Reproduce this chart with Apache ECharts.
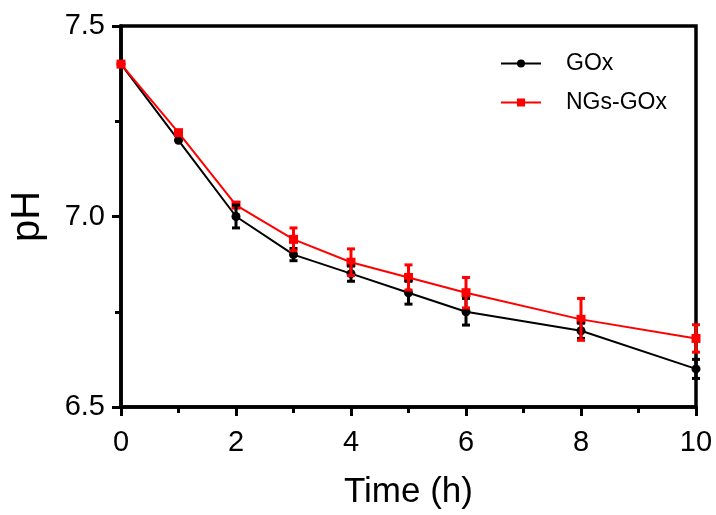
<!DOCTYPE html>
<html><head><meta charset="utf-8">
<script src="https://cdn.jsdelivr.net/npm/echarts@6/dist/echarts.min.js"></script>
<style>html,body{margin:0;padding:0;background:#fff}#c{width:716px;height:515px}</style>
</head><body><div id="c"></div>
<script>
var times = [0, 1, 2, 3, 4, 5, 6, 8, 10];
var goxMean = [7.40, 7.20, 7.00, 6.90, 6.85, 6.80, 6.75, 6.70, 6.60];
var goxErr  = [0.00, 0.00, 0.03, 0.016, 0.02, 0.03, 0.035, 0.02, 0.025];
var ngsMean = [7.40, 7.22, 7.03, 6.94, 6.88, 6.84, 6.80, 6.73, 6.68];
var ngsErr  = [0.00, 0.00, 0.00, 0.03, 0.035, 0.033, 0.04, 0.055, 0.036];

function pts(m){ return times.map(function(t,i){return [t,m[i]];}); }
function errData(m,e){ return times.map(function(t,i){return [t,m[i]-e[i],m[i]+e[i]];}); }
function errSeries(m,e,color){
  return {
    type:'custom', silent:true, z:5,
    data: errData(m,e),
    renderItem:function(params,api){
      var x=api.value(0), lo=api.value(1), hi=api.value(2);
      if(hi-lo<=0) return null;
      var p1=api.coord([x,lo]), p2=api.coord([x,hi]);
      var w=4;
      var st={stroke:color,lineWidth:3};
      return {type:'group',children:[
        {type:'line',shape:{x1:p1[0],y1:p1[1],x2:p2[0],y2:p2[1]},style:st},
        {type:'line',shape:{x1:p1[0]-w,y1:p1[1],x2:p1[0]+w,y2:p1[1]},style:st},
        {type:'line',shape:{x1:p2[0]-w,y1:p2[1],x2:p2[0]+w,y2:p2[1]},style:st}
      ]};
    }
  };
}
var font='"Liberation Sans", Arial, sans-serif';
var chart=echarts.init(document.getElementById('c'));
chart.setOption({
  animation:false,
  backgroundColor:'#fff',
  grid:{left:120,right:20,top:26,bottom:105,show:true,borderColor:'#000',borderWidth:3.5,backgroundColor:'transparent'},
  legend:{
    left:495, top:47, orient:'vertical', itemWidth:40, itemHeight:10, itemGap:16,
    textStyle:{fontFamily:font,fontSize:23,color:'#000',padding:[0,0,0,20]},
    data:['GOx','NGs-GOx']
  },
  xAxis:{
    type:'value', min:0, max:10, interval:2,
    name:'Time (h)', nameLocation:'middle', nameGap:68,
    nameTextStyle:{fontFamily:font,fontSize:35,color:'#000'},
    axisLine:{lineStyle:{color:'#000',width:3.5}},
    axisTick:{inside:false,length:9,lineStyle:{color:'#000',width:3}},
    minorTick:{show:true,splitNumber:2,length:6,lineStyle:{color:'#000',width:3}},
    axisLabel:{fontFamily:font,fontSize:29,color:'#000',margin:21},
    splitLine:{show:false}
  },
  yAxis:{
    type:'value', min:6.5, max:7.5, interval:0.5,
    name:'pH', nameLocation:'middle', nameGap:73,
    nameTextStyle:{fontFamily:font,fontSize:40,color:'#000'},
    axisLine:{lineStyle:{color:'#000',width:3.5}},
    axisTick:{inside:false,length:9,lineStyle:{color:'#000',width:3}},
    minorTick:{show:true,splitNumber:2,length:6,lineStyle:{color:'#000',width:3}},
    axisLabel:{fontFamily:font,fontSize:29,color:'#000',margin:16,formatter:function(v){return v.toFixed(1);}},
    splitLine:{show:false}
  },
  series:[
    {name:'GOx',type:'line',data:pts(goxMean),symbol:'circle',symbolSize:9,
     itemStyle:{color:'#000'},lineStyle:{color:'#000',width:2},z:3},
    {name:'NGs-GOx',type:'line',data:pts(ngsMean),symbol:'rect',symbolSize:9,
     itemStyle:{color:'#ff0000'},lineStyle:{color:'#ff0000',width:2},z:4},
    errSeries(goxMean,goxErr,'#000'),
    errSeries(ngsMean,ngsErr,'#ff0000')
  ]
});
</script></body></html>
